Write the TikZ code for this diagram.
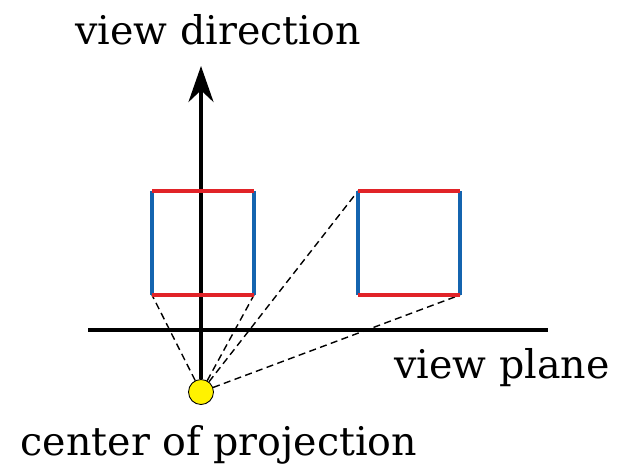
\documentclass[tikz,border=0pt]{standalone}
\usepackage{fontspec}
\setmainfont{DejaVu Serif}
\usetikzlibrary{arrows.meta, positioning}
\definecolor{edgered}{RGB}{225,35,40}
\definecolor{edgeblue}{RGB}{20,100,175}

\begin{document}
\begin{tikzpicture}[x=0.02cm, y=-0.02cm, >=Stealth,
      edgeh/.style={draw=edgered, line width=2.2pt},
      edgev/.style={draw=edgeblue, line width=2.2pt},
      proj/.style={line width=0.8pt, dash pattern=on 4pt off 2.5pt},
      lbl/.style={font=\fontsize{22.5}{26}\selectfont}]

    \useasboundingbox (0,0) rectangle (621,470);

    \def\sw{102} % square width
    \def\top{191}
    \def\bot{295}

    % === squares ===
    \coordinate (a1) at (152,\bot);
    \coordinate (a2) at (152+\sw,\bot);
    \coordinate (a3) at (152+\sw,\top);
    \coordinate (a4) at (152,\top);
    \coordinate (b1) at (358,\bot);
    \coordinate (b2) at (358+\sw,\bot);
    \coordinate (b3) at (358+\sw,\top);
    \coordinate (b4) at (358,\top);

    % === view plane and axis ===
    \coordinate (vpl) at (88,330);
    \coordinate (vpr) at (548,330);
    \coordinate (tip) at (201,66);
    \node[circle, draw, fill=yellow, line width=0.5pt, minimum size=0.5cm, inner sep=0pt] (cop) at (201,392) {};

    \draw[line width=1.8pt] (vpl) -- (vpr);
    \draw[line width=2.2pt, -{Stealth[length=0.72cm, width=0.5cm]}] (cop) -- (tip);

    \draw[proj] (cop) -- (a1);
    \draw[proj] (cop) -- (a2);
    \draw[proj] (cop) -- (b4);
    \draw[proj] (cop) -- (b2);

    \draw[edgev] (a1) -- (a4);
    \draw[edgev] (a2) -- (a3);
    \draw[edgev] (b1) -- (b4);
    \draw[edgev] (b2) -- (b3);
    \draw[edgeh] (a1) -- (a2);
    \draw[edgeh] (a4) -- (a3);
    \draw[edgeh] (b1) -- (b2);
    \draw[edgeh] (b4) -- (b3);

    % === labels ===
    \node[lbl] (vdir) at (218,30) {view direction};
    \node[lbl] (vpln) at (502,368) {view plane};
    \node[lbl] (ctr) at (219,445) {center of projection};

\end{tikzpicture}
\end{document}
